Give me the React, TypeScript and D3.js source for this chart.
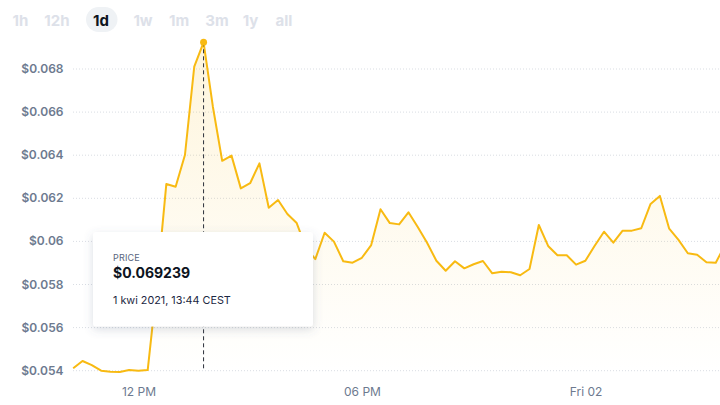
import React from "react";
import * as d3 from "d3";

// ---- data ----
const startTime = new Date(2021, 3, 1, 10, 14); // first sample, 15-minute steps
const stepMinutes = 15;
const prices: number[] = [
  0.05411, 0.05445, 0.05426, 0.0540, 0.05395, 0.05394, 0.05403, 0.0540, 0.05403,
  0.05802, 0.06266, 0.06254, 0.06401, 0.06811, 0.069239, 0.06625, 0.06374, 0.06398,
  0.06246, 0.0627, 0.06362, 0.06156, 0.06192, 0.06127, 0.06085, 0.0597, 0.05918,
  0.0604, 0.05999, 0.05908, 0.05901, 0.05924, 0.05983, 0.06149, 0.06085, 0.06079,
  0.06135, 0.06067, 0.05994, 0.0591, 0.05864, 0.05908, 0.05875, 0.05894, 0.05909,
  0.05852, 0.05859, 0.05857, 0.05843, 0.05872, 0.06076, 0.05979, 0.05936, 0.05936,
  0.05892, 0.0591, 0.0598, 0.06045, 0.05994, 0.0605, 0.0605, 0.06061, 0.06174,
  0.06211, 0.06059, 0.06007, 0.05945, 0.05938, 0.05903, 0.05901, 0.05983,
];
const yTicks: number[] = [0.054, 0.056, 0.058, 0.06, 0.062, 0.064, 0.066, 0.068];
const yTickLabels: string[] = ["$0.054", "$0.056", "$0.058", "$0.06", "$0.062", "$0.064", "$0.066", "$0.068"];
const xTicks: Date[] = [new Date(2021, 3, 1, 12, 0), new Date(2021, 3, 1, 18, 0), new Date(2021, 3, 2, 0, 0)];
const xTickLabels: string[] = ["12 PM", "06 PM", "Fri 02"];
const rangeButtons: string[] = ["1h", "12h", "1d", "1w", "1m", "3m", "1y", "all"];
const activeRange = "1d";
const hoverIndex = 14;
const tooltipTitle = "PRICE";
const tooltipValue = "$0.069239";
const tooltipDate = "1 kwi 2021, 13:44 CEST";

const series = prices.map((v, i) => ({
  t: new Date(startTime.getTime() + i * stepMinutes * 60000),
  v,
}));

export default function App() {
  const W = 720, H = 405;
  const x = d3.scaleTime().domain([xTicks[0], xTicks[2]]).range([139, 586]);
  const y = d3.scaleLinear().domain([0.054, 0.068]).range([370.7, 69]);
  const line = d3.line<{ t: Date; v: number }>().x(d => x(d.t)).y(d => y(d.v));
  const area = d3.area<{ t: Date; v: number }>().x(d => x(d.t)).y0(370.7).y1(d => y(d.v));
  const color = "#F8BA12";
  const hp = series[hoverIndex];
  const hx = x(hp.t), hy = y(hp.v);

  const btnX = [20.5, 57, 101, 143, 179, 217, 250.5, 284];
  const font = "Inter, 'Noto Sans', sans-serif";

  return (
    <svg width={W} height={H} style={{ position: "absolute", left: 0, top: 0, background: "#fff" }} fontFamily={font}>
      <defs>
        <linearGradient id="areaGrad" gradientUnits="userSpaceOnUse" x1="0" y1="40" x2="0" y2="371">
          <stop offset="0" stopColor={color} stopOpacity={0.15} />
          <stop offset="1" stopColor={color} stopOpacity={0.0} />
        </linearGradient>
        <clipPath id="plotClip">
          <rect x={72} y={0} width={W - 72} height={H} />
        </clipPath>
        <filter id="shadow" x="-20%" y="-30%" width="140%" height="160%">
          <feDropShadow dx="0" dy="3" stdDeviation="5" floodColor="#58667e" floodOpacity="0.22" />
        </filter>
      </defs>

      {/* range buttons */}
      <rect x={86} y={7} width={31.5} height={25} rx={12.5} fill="#eff2f5" />
      {rangeButtons.map((b, i) => (
        <text key={b} x={btnX[i]} y={26} textAnchor="middle" fontSize={15} fontWeight={700}
          fill={b === activeRange ? "#0d1421" : "#dde1e9"}>{b}</text>
      ))}

      {/* grid + y labels */}
      {yTicks.map((t, i) => (
        <g key={t}>
          <line x1={73} x2={W} y1={y(t)} y2={y(t)} stroke="#d9dde3" strokeDasharray="1,2" />
          <text x={63.5} y={y(t) + 4} textAnchor="end" fontSize={12} fontWeight={600} fill="#6d7a8f">{yTickLabels[i]}</text>
        </g>
      ))}

      {/* x labels */}
      {xTicks.map((t, i) => (
        <text key={i} x={x(t)} y={396} textAnchor="middle" fontSize={12} fill="#6d7a8f">{xTickLabels[i]}</text>
      ))}

      {/* area + line */}
      <g clipPath="url(#plotClip)">
        <path d={area(series) || ""} fill="url(#areaGrad)" />
        <path d={line(series) || ""} fill="none" stroke={color} strokeWidth={2} strokeLinejoin="round" />
      </g>

      {/* hover */}
      <line x1={hx} x2={hx} y1={hy} y2={370} stroke="#2b2f3a" strokeWidth={1} strokeDasharray="4,3" />
      <circle cx={hx} cy={hy} r={3.5} fill={color} />

      {/* tooltip */}
      <rect x={93} y={232} width={220} height={94.5} rx={3} fill="#fff" filter="url(#shadow)" />
      <text x={113} y={261} fontSize={9} fill="#58667e" letterSpacing={0.2}>{tooltipTitle}</text>
      <text x={113} y={278} fontSize={14} fontWeight={700} fill="#0d1421">{tooltipValue}</text>
      <text x={113} y={304} fontSize={10.8} fill="#1c2742">{tooltipDate}</text>
    </svg>
  );
}
